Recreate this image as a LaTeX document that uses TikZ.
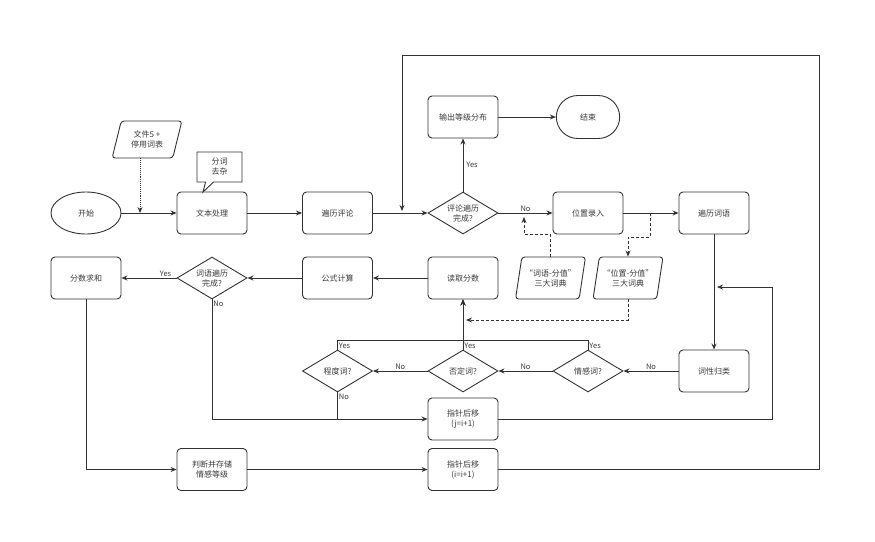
\documentclass[tikz,border=0pt]{standalone}
\usepackage{fontspec}
\setmainfont{Noto Sans CJK SC}
\usetikzlibrary{shapes.geometric,shapes.misc,shapes.callouts,arrows.meta}
\definecolor{ln}{HTML}{333333}
\definecolor{tx}{HTML}{3A3A3A}
\begin{document}
\begin{tikzpicture}[x=1pt,y=-1pt,line width=0.9pt,
  font=\fontsize{8}{10}\selectfont,
  box/.style={draw=ln, text=tx, rounded corners=4pt, minimum width=70pt, minimum height=42pt, align=center, inner sep=0pt},
  dec/.style={draw=ln, text=tx, diamond, aspect=1.67, minimum width=70pt, minimum height=42pt, align=center, inner sep=0pt},
  dat/.style={draw=ln, text=tx, trapezium, trapezium left angle=72, trapezium right angle=108, trapezium stretches=true, rounded corners=3pt, minimum width=70pt, minimum height=42pt, align=center, inner sep=0pt},
  arr/.style={draw=ln, -{Stealth[length=6pt,width=5pt]}},
  dsh/.style={arr, dash pattern=on 3pt off 2pt},
  lbl/.style={text=tx, font=\fontsize{7.5}{9}\selectfont, inner sep=1pt}]

\useasboundingbox [fill=white] (0,0) rectangle (875,541);

\node [draw=ln, text=tx, ellipse, minimum width=70pt, minimum height=42pt] (ks) at (86,213) {开始};
\node [box] (wbcl) at (212,213) {文本处理};
\node [draw=ln, text=tx, rectangle callout, callout absolute pointer={(203,192)}, callout pointer width=8pt, minimum width=45pt, minimum height=30pt, align=center, inner sep=0pt] (fc) at (219.5,167) {分词\\去杂};
\node [dat, minimum height=37pt] (wj) at (147,139.5) {文件5 +\\停用词表};
\node [box] (blpl) at (337.5,213) {遍历评论};
\node [dec] (plwc) at (463,213) {评论遍历\\完成?};
\node [box] (sc) at (463,117) {输出等级分布};
\node [draw=ln, text=tx, rounded rectangle, minimum width=70pt, minimum height=43pt] (js) at (588,117) {结束};
\node [box] (wzlr) at (588,213) {位置录入};
\node [box] (blcy) at (714,213) {遍历词语};
\node [dat] (cyd) at (550.5,278) {“词语-分值”\\三大词典};
\node [dat] (wzd) at (628,278) {“位置-分值”\\三大词典};
\node [box] (dqfs) at (463,278) {读取分数};
\node [box] (gsjs) at (337.5,278) {公式计算};
\node [dec] (cywc) at (212,278) {词语遍历\\完成?};
\node [box] (fsqh) at (86,278) {分数求和};
\node [dec] (cdc) at (337.5,371) {程度词?};
\node [dec] (fdc) at (463,371) {否定词?};
\node [dec] (qgc) at (588,371) {情感词?};
\node [box] (cxgl) at (714,371) {词性归类};
\node [box] (zz1) at (463,419) {指针后移\\(j=i+1)};
\node [box] (zz2) at (463,469.5) {指针后移\\(i=i+1)};
\node [box] (pdcc) at (212,469.5) {判断并存储\\情感等级};

\coordinate (ydot) at (140,213);
\coordinate (dt1) at (524,217);
\coordinate (dt2) at (650,213);
\coordinate (dt3) at (466,320);
\coordinate (dt4) at (717,287);
\coordinate (dt5) at (402,211);
\coordinate (r1) at (772,287);
\coordinate (r2) at (819,55);

\draw [arr] (ks) -- (wbcl);
\draw [arr, densely dotted] (wj.south -| ydot) -- (ydot);
\draw [arr] (wbcl) -- (blpl);
\draw [arr] (blpl) -- (plwc);
\draw [arr] (plwc) -- node [lbl, right=2pt] {Yes} (sc);
\draw [arr] (sc) -- (js);
\draw [arr] (plwc) -- node [lbl, above] {No} (wzlr);
\draw [arr] (wzlr) -- (blcy);
\draw [dsh] (cyd.north) -- ++(0,-22) -| (dt1);
\draw [dsh] (dt2) -- ++(0,24) -| (wzd.north);
\draw [dsh] (wzd.south) |- (dt3);
\draw [arr] (blcy) -- (cxgl);
\draw [arr] (cxgl) -- node [lbl, above] {No} (qgc);
\draw [arr] (qgc) -- node [lbl, above] {No} (fdc);
\draw [arr] (fdc) -- node [lbl, above] {No} (cdc);
\draw [arr] (qgc.north) node [lbl, above right] {Yes} -- ++(0,-9) -| (dqfs.south);
\draw [arr] (cdc.north) node [lbl, above right] {Yes} -- ++(0,-9) -| (dqfs.south);
\draw [arr] (fdc.north) node [lbl, above right] {Yes} -- (dqfs.south);
\draw [arr] (dqfs) -- (gsjs);
\draw [arr] (gsjs) -- (cywc);
\draw [arr] (cywc) -- node [lbl, above, pos=0.2] {Yes} (fsqh);
\draw [arr] (cywc.south) node [lbl, below right] {No} |- (zz1.west);
\draw [draw=ln] (cdc.south) node [lbl, below right] {No} -- (cdc.south |- zz1.west);
\draw [arr] (zz1.east) -| (r1) -- (dt4);
\draw [arr] (fsqh.south) |- (pdcc.west);
\draw [arr] (pdcc) -- (zz2);
\draw [arr] (zz2.east) -| (r2) -| (dt5);
\end{tikzpicture}
\end{document}
